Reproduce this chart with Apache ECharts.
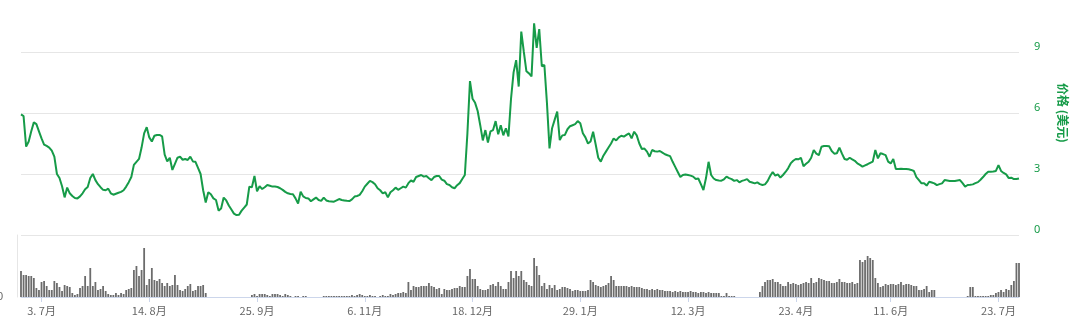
<!DOCTYPE html>
<html><head><meta charset="utf-8">
<script src="https://cdn.jsdelivr.net/npm/echarts@6/dist/echarts.min.js"></script>
<style>html,body{margin:0;padding:0;background:#fff}#c{width:1080px;height:325px}</style>
</head><body><div id="c"></div>
<script>
const price = [
5.93,5.85,4.35,4.6,5.1,5.54,5.45,5.1,4.75,4.45,
4.38,4.3,4.15,3.85,3.0,2.8,2.4,1.85,2.33,2.05,
1.92,1.82,1.8,1.9,2.05,2.25,2.36,2.8,3.0,2.7,
2.5,2.35,2.22,2.2,2.28,2.05,1.98,2.03,2.08,2.12,
2.2,2.38,2.6,2.85,3.45,3.6,3.74,4.3,5.0,5.3,
4.8,4.6,4.88,4.92,4.92,4.85,3.95,3.62,3.8,3.2,
3.5,3.8,3.85,3.7,3.74,3.69,3.85,3.62,3.6,3.3,
3.0,2.2,1.6,2.1,2.0,1.8,1.72,1.2,1.3,1.84,
1.7,1.45,1.25,1.05,0.98,1.0,1.2,1.35,1.5,2.38,
2.35,2.9,2.15,2.4,2.26,2.35,2.46,2.42,2.38,2.38,
2.36,2.3,2.22,2.12,2.05,2.02,2.0,1.8,1.55,2.13,
1.9,1.82,1.8,1.66,1.75,1.84,1.72,1.68,1.84,1.7,
1.66,1.65,1.64,1.7,1.77,1.72,1.7,1.68,1.67,1.75,
1.89,1.92,1.97,2.15,2.38,2.52,2.66,2.6,2.5,2.3,
2.2,2.05,2.1,1.85,2.1,2.2,2.33,2.22,2.3,2.38,
2.33,2.55,2.68,2.62,2.85,2.9,2.95,2.87,2.9,2.79,
2.7,2.85,2.9,2.9,2.72,2.67,2.5,2.46,2.35,2.3,
2.45,2.55,2.75,2.95,5.0,7.57,6.7,6.5,6.1,5.4,
4.65,5.16,4.55,5.1,5.16,5.6,4.95,5.4,4.9,5.25,
4.85,6.7,8.0,8.6,7.3,10.0,9.0,8.05,7.95,7.8,
10.41,9.2,10.13,8.3,8.36,6.5,4.26,5.25,5.66,6.07,
4.67,4.9,4.92,5.2,5.35,5.4,5.45,5.6,5.5,5.0,
4.8,4.5,4.6,5.08,4.45,3.8,3.61,3.9,4.1,4.3,
4.5,4.75,4.65,4.8,4.88,4.84,4.92,5.0,4.75,5.08,
4.9,4.5,4.23,4.25,4.1,3.85,4.18,4.12,4.1,4.13,
4.05,3.97,3.92,3.88,3.6,3.35,3.1,2.85,2.95,2.98,
2.95,2.92,2.87,2.75,2.78,2.5,2.21,2.8,3.6,2.95,
2.78,2.7,2.68,2.67,2.74,2.87,2.8,2.75,2.66,2.7,
2.59,2.66,2.7,2.75,2.62,2.58,2.54,2.59,2.5,2.46,
2.49,2.65,2.9,3.1,2.92,2.98,2.82,2.95,3.1,3.28,
3.52,3.65,3.74,3.72,3.8,3.38,3.5,3.6,3.8,4.18,
4.0,3.93,4.34,4.38,4.38,4.36,4.13,4.0,4.02,4.3,
4.0,3.74,3.7,3.8,3.72,3.65,3.52,3.45,3.36,3.42,
3.48,3.55,3.61,4.18,3.77,4.02,3.98,3.93,3.61,3.52,
3.74,3.25,3.25,3.26,3.25,3.24,3.23,3.2,3.15,2.85,
2.7,2.54,2.54,2.43,2.62,2.58,2.54,2.45,2.5,2.54,
2.7,2.68,2.66,2.66,2.66,2.68,2.7,2.55,2.38,2.46,
2.47,2.49,2.55,2.6,2.72,2.85,3.0,3.11,3.11,3.12,
3.15,3.44,3.15,3.05,2.98,2.8,2.82,2.75,2.75,2.78
];
const volume = [
26,22,22,21,21,19,9,7,15,16,
11,7,7,16,14,10,6,12,11,10,
4,2,3,9,11,21,11,29,11,15,
7,8,11,6,3,2,2,4,2,4,
3,7,8,9,27,31,21,27,49,12,
18,29,17,16,18,14,11,14,11,12,
22,12,7,6,8,11,13,6,7,11,
11,12,4,0,0,0,0,0,0,0,
0,0,0,0,0,0,0,0,0,0,
2,3,1,3,3,3,2,1,3,3,
3,2,1,3,2,1,0,1,1,0,
1,1,0,0,0,0,0,0,1,1,
1,1,1,1,1,1,1,1,1,2,
1,2,3,2,1,1,2,1,1,0,
1,2,1,1,3,2,3,4,4,5,
4,15,7,11,10,10,11,11,11,14,
11,10,8,9,3,8,7,7,8,9,
9,11,10,10,21,28,18,18,11,8,
7,7,8,12,13,11,15,11,8,8,
15,26,19,26,21,26,17,15,12,11,
39,31,22,11,14,8,12,9,12,7,
8,10,10,9,8,6,7,7,6,6,
6,7,17,15,12,11,10,11,12,14,
21,17,11,11,11,11,11,10,11,10,
10,10,9,8,8,7,8,7,8,7,
7,6,6,6,5,6,5,6,5,5,
5,6,5,5,4,5,5,4,5,4,
4,4,4,1,1,4,1,1,1,0,
0,0,0,0,0,0,0,0,5,11,
15,17,17,18,15,15,13,11,11,15,
13,14,13,12,13,14,15,14,19,14,
15,19,18,17,16,16,14,14,15,18,
15,15,14,14,15,13,14,37,35,37,
41,39,37,19,14,10,11,13,12,13,
13,12,13,15,12,13,13,12,11,11,
7,7,8,11,5,7,7,0,0,0,
0,0,0,0,0,0,0,0,0,1,
10,10,1,1,1,1,1,1,2,2,
4,5,7,5,8,7,12,16,34,34
];
const tickLabels = ['3. 7月','14. 8月','25. 9月','6. 11月','18. 12月','29. 1月','12. 3月','23. 4月','11. 6月','23. 7月'];
const tickIndex = [8,50,92,134,176,218,260,302,339,381];
const priceTicks = [0,3,6,9];
const axisName = '价格 (美元)';

const categories = price.map((_, i) => String(i));
const isTick = (i) => tickIndex.indexOf(i) >= 0;
const green = '#169b48';

const chart = echarts.init(document.getElementById('c'), null, {renderer: 'canvas'});
chart.setOption({
  animation: false,
  backgroundColor: '#ffffff',
  grid: [
    {left: 21, right: 61, top: -9, height: 244, outerBoundsMode: 'none', containLabel: false},
    {left: 21, right: 61, top: 235, height: 62, outerBoundsMode: 'none', containLabel: false}
  ],
  xAxis: [
    {type: 'category', gridIndex: 0, data: categories, boundaryGap: false, show: false},
    {type: 'category', gridIndex: 1, data: categories, boundaryGap: false,
      axisLine: {show: true, lineStyle: {color: '#ccd6eb', width: 1}},
      axisTick: {show: true, interval: (i) => isTick(i), length: 5, lineStyle: {color: '#ccd6eb'}},
      axisLabel: {interval: (i) => isTick(i), margin: 8, color: '#666666', fontSize: 11,
        fontFamily: '"Noto Sans CJK SC", sans-serif',
        formatter: (v, i) => { const k = tickIndex.indexOf(i); return k >= 0 ? tickLabels[k] : ''; }},
      splitLine: {show: false}
    }
  ],
  yAxis: [
    {type: 'value', gridIndex: 0, position: 'right', min: 0, max: 12, interval: 3,
      splitLine: {show: true, lineStyle: {color: '#e6e6e6', width: 1}},
      axisLine: {show: false}, axisTick: {show: false},
      axisLabel: {color: green, fontSize: 11, margin: 15, verticalAlign: 'bottom',
        fontFamily: '"Noto Sans", sans-serif',
        formatter: (v) => priceTicks.indexOf(v) >= 0 ? String(v) : ''},
      name: axisName, nameLocation: 'middle', nameRotate: -90, nameGap: 38,
      nameTextStyle: {color: green, fontSize: 12, fontWeight: 'bold', fontFamily: '"Noto Sans CJK SC", sans-serif'}
    },
    {type: 'value', gridIndex: 1, position: 'left', min: 0, max: 62, interval: 62, offset: 4,
      splitLine: {show: false},
      axisLine: {show: true, lineStyle: {color: '#e6e6e6'}}, axisTick: {show: false},
      axisLabel: {margin: 14, color: '#666666', fontSize: 11, verticalAlign: 'middle',
        formatter: (v) => v === 0 ? '0' : ''}
    }
  ],
  series: [
    {type: 'line', xAxisIndex: 0, yAxisIndex: 0, data: price, showSymbol: false, symbol: 'none',
      lineStyle: {color: green, width: 2}, clip: true, z: 3},
    {type: 'bar', xAxisIndex: 1, yAxisIndex: 1, data: volume, barWidth: 1.8,
      itemStyle: {color: '#6c6c6c'}}
  ]
});
</script>
</body></html>
